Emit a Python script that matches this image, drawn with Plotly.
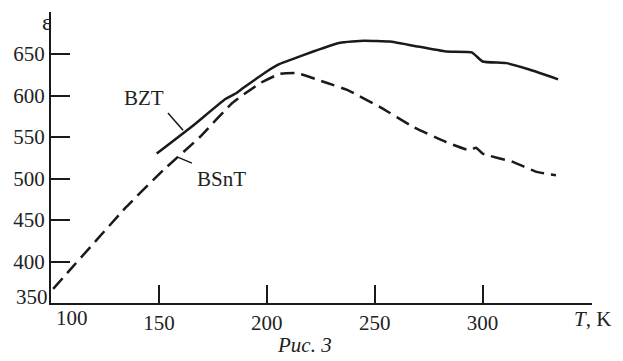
import plotly.graph_objects as go

# Data
bzt_T = [149, 165, 181, 186, 189, 195, 200, 206, 211, 221.5, 234, 245, 257, 268, 283, 295, 300, 311, 322, 335]
bzt_eps = [530, 562, 596, 603, 609, 620, 629, 638, 643, 653, 663.5, 666, 665, 660, 653, 652, 641, 639, 631, 619.5]

bsnt_T = [101, 108.5, 135, 152, 169, 184, 197, 206, 214, 228, 237, 252.5, 268, 283, 294, 297, 300, 314, 325, 334]
bsnt_eps = [367, 389, 466, 510, 550, 591, 615, 626, 627, 615, 607, 586, 562, 544, 534, 537, 530, 520, 508, 504]

x_ticks = [100, 150, 200, 250, 300]
y_ticks = [350, 400, 450, 500, 550, 600, 650]

FONT = "'Liberation Serif', 'Times New Roman', serif"
FS = 21
INK = "#1a1a1a"
TXT = "#222"

fig = go.Figure()
fig.add_trace(go.Scatter(x=bzt_T, y=bzt_eps, mode="lines", name="BZT",
                         line=dict(color=INK, width=2.5, shape="spline", smoothing=0.4)))
fig.add_trace(go.Scatter(x=bsnt_T, y=bsnt_eps, mode="lines", name="BSnT",
                         line=dict(color=INK, width=2.5, dash="14px,7px", shape="spline", smoothing=0.4)))

# leader lines for curve labels
fig.add_shape(type="line", x0=154.2, y0=579, x1=161.2, y1=558, line=dict(color=INK, width=1.5))
fig.add_shape(type="line", x0=158.4, y0=526, x1=165.3, y1=518.5, line=dict(color=INK, width=1.5))

fig.add_annotation(x=143, y=597, text="BZT", showarrow=False, font=dict(family=FONT, size=FS, color=TXT))
fig.add_annotation(x=179, y=499, text="BSnT", showarrow=False, font=dict(family=FONT, size=FS, color=TXT))

# first tick labels, placed off-centre as in the reference
fig.add_annotation(x=x_ticks[0], y=0, yref="paper", text=str(x_ticks[0]), showarrow=False,
                   xanchor="left", yanchor="top", xshift=3, yshift=-1,
                   font=dict(family=FONT, size=FS, color=TXT))
fig.add_annotation(x=0, xref="paper", y=y_ticks[0], text=str(y_ticks[0]), showarrow=False,
                   xanchor="right", yanchor="middle", xshift=-1, yshift=6,
                   font=dict(family=FONT, size=FS, color=TXT))

fig.add_annotation(xref="paper", yref="paper", x=1.0, y=-0.055, text="<i>T</i>, K", showarrow=False,
                   xanchor="center", yanchor="middle", font=dict(family=FONT, size=FS, color=TXT))
fig.add_annotation(xref="paper", yref="paper", x=-0.008, y=1.0137, text="ε", showarrow=False,
                   xanchor="center", yanchor="top", font=dict(family=FONT, size=23, color=TXT))
fig.add_annotation(xref="paper", yref="paper", x=0.4695, y=-0.144, text="<i>Рис. 3</i>", showarrow=False,
                   xanchor="center", yanchor="middle", font=dict(family=FONT, size=FS, color=TXT))

# page body has an 8px margin, so the figure is sized to sit inside the window
fig.update_layout(
    width=615, height=353,
    margin=dict(l=43, r=31, t=4, b=58),
    paper_bgcolor="white", plot_bgcolor="white",
    showlegend=False,
    font=dict(family=FONT, size=FS, color=TXT),
)
fig.update_xaxes(range=[100, 350.7], tickvals=x_ticks,
                 ticktext=[""] + [str(v) for v in x_ticks[1:]],
                 showgrid=False, zeroline=False, showline=True, linecolor=INK, linewidth=2,
                 ticks="inside", ticklen=18, tickwidth=2, tickcolor=INK,
                 tickfont=dict(family=FONT, size=FS, color=TXT))
fig.update_yaxes(range=[350, 700.6], tickvals=y_ticks,
                 ticktext=[""] + [str(v) for v in y_ticks[1:]],
                 showgrid=False, zeroline=False, showline=True, linecolor=INK, linewidth=2,
                 ticks="inside", ticklen=19, tickwidth=2, tickcolor=INK,
                 tickfont=dict(family=FONT, size=FS, color=TXT))

fig.write_html("out.html")
